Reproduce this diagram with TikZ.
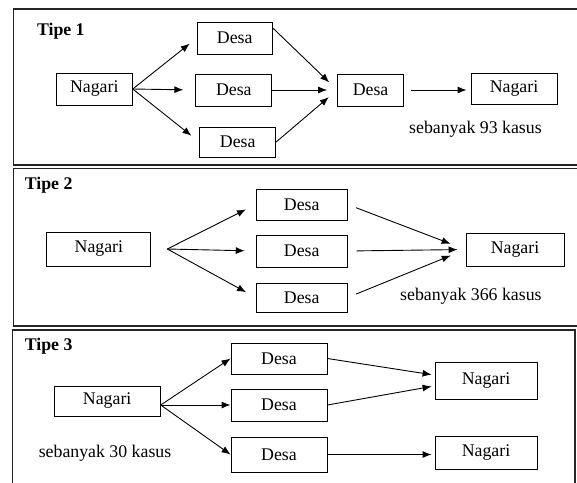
\documentclass[tikz,border=0pt]{standalone}
\usepackage{fontspec}
\setmainfont{Liberation Serif}
\usetikzlibrary{arrows.meta}

\begin{document}
\begin{tikzpicture}[x=1pt,y=-1pt,
  box/.style={draw=black,line width=0.9pt,inner sep=0pt,font=\fontsize{17.8}{20}\selectfont},
  arr/.style={line width=0.9pt,-{Latex[length=9pt,width=7pt]}},
  frame/.style={draw=black!85,line width=1.2pt},
  lbl/.style={inner sep=0pt,anchor=base west,font=\fontsize{17.8}{20}\selectfont}]
\useasboundingbox (0,0) rectangle (577,482);
\draw[frame] (13.2,9) rectangle (590,165);
\draw[frame] (13.2,168.5) rectangle (590,326);
\draw[frame] (12.5,330) rectangle (575,500);
\node[lbl,font=\fontsize{17.8}{20}\selectfont\bfseries] (t1) at (36.8,35) {Tipe 1};
\node[lbl,font=\fontsize{17.8}{20}\selectfont\bfseries] (t2) at (24.6,189) {Tipe 2};
\node[lbl,font=\fontsize{17.8}{20}\selectfont\bfseries] (t3) at (24.6,350) {Tipe 3};
\node[box,minimum width=76pt,minimum height=32pt] (n1) at (94.3,89) {Nagari};
\node[box,minimum width=75pt,minimum height=32pt] (d1a) at (234.7,38) {Desa};
\node[box,minimum width=76pt,minimum height=32pt] (d1b) at (233.8,90) {Desa};
\node[box,minimum width=76pt,minimum height=30pt] (d1c) at (237.7,142) {Desa};
\node[box,minimum width=66pt,minimum height=32pt] (d1d) at (370.6,90) {Desa};
\node[box,minimum width=86pt,minimum height=31pt] (n1b) at (514,88.5) {Nagari};
\node[lbl] (s1) at (409,133) {sebanyak 93 kasus};
\node[box,minimum width=104pt,minimum height=34pt] (n2) at (98.9,249) {Nagari};
\node[box,minimum width=91pt,minimum height=31pt] (d2a) at (301.7,204.5) {Desa};
\node[box,minimum width=91pt,minimum height=32pt] (d2b) at (301.7,251) {Desa};
\node[box,minimum width=91pt,minimum height=29pt] (d2c) at (301.7,297.5) {Desa};
\node[box,minimum width=98pt,minimum height=33pt] (n2b) at (515,249.5) {Nagari};
\node[lbl] (s2) at (400,300.5) {sebanyak 366 kasus};
\node[box,minimum width=105.6pt,minimum height=30pt] (n3) at (107.2,401) {Nagari};
\node[box,minimum width=96pt,minimum height=31pt] (d3a) at (279,358.5) {Desa};
\node[box,minimum width=96pt,minimum height=32pt] (d3b) at (279,405) {Desa};
\node[box,minimum width=96pt,minimum height=35pt] (d3c) at (279,454.5) {Desa};
\node[box,minimum width=102pt,minimum height=37pt] (n3b) at (486,380.5) {Nagari};
\node[box,minimum width=102pt,minimum height=33pt] (n3c) at (486,453) {Nagari};
\node[lbl] (s3) at (38.6,457.3) {sebanyak 30 kasus};
\coordinate (f2) at (167.3,249);
\coordinate (f3) at (160.7,405);
\draw[arr,shorten >=9pt] (n1.east) -- (d1a.west);
\draw[arr,shorten >=12pt] (n1.east) -- (d1b.west);
\draw[arr,shorten >=10pt] (n1.east) -- (d1c.west);
\draw[arr,shorten >=11pt] (d1a.15) -- (d1d.west);
\draw[arr,shorten >=10pt] (d1b.east) -- (d1d.west);
\draw[arr,shorten >=11pt] (d1c.east) -- (d1d.west);
\draw[arr,shorten <=7pt,shorten >=4pt] (d1d.east) -- (d1d.east -| n1b.west);
\draw[arr,shorten >=11pt] (f2) -- (d2a.west);
\draw[arr,shorten >=11pt] (f2) -- (d2b.west);
\draw[arr,shorten >=11pt] (f2) -- (d2c.west);
\draw[arr,shorten <=9pt,shorten >=16pt] (d2a.east) -- (n2b.west);
\draw[arr,shorten <=9pt,shorten >=8pt] (d2b.east) -- (n2b.west);
\draw[arr,shorten <=9pt,shorten >=16pt] (d2c.east) -- (n2b.west);
\draw[arr] (f3) -- (d3a.west);
\draw[arr] (f3) -- (d3b.west);
\draw[arr] (f3) -- (d3c.west);
\draw[arr,shorten >=3pt] (d3a.east) -- (n3b.174);
\draw[arr,shorten >=3pt] (d3b.east) -- (n3b.186);
\draw[arr,shorten >=3pt] (d3c.east) -- (d3c.east -| n3c.west);
\end{tikzpicture}
\end{document}
